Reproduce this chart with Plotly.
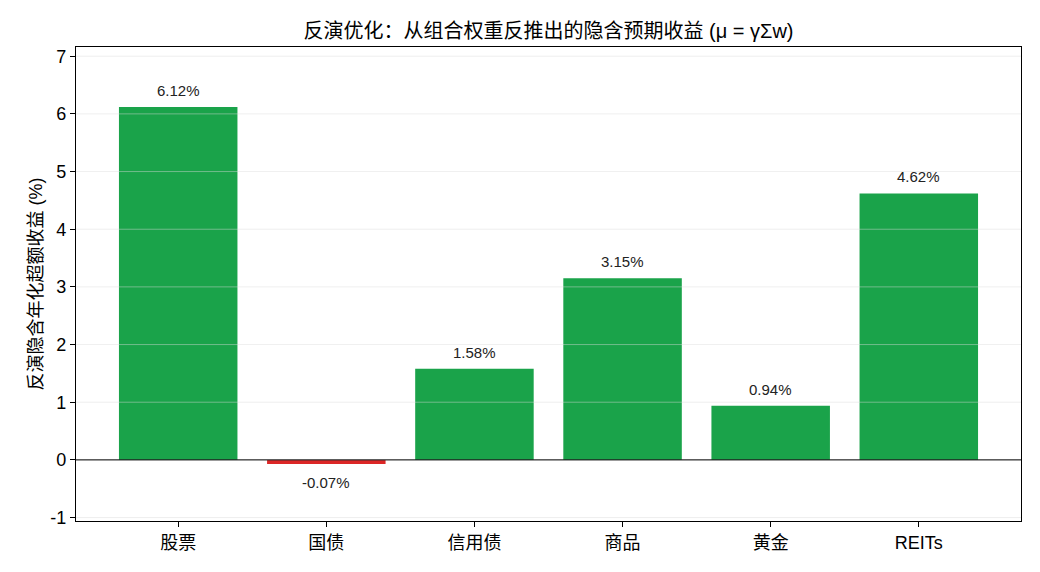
import plotly.graph_objects as go

categories = ["股票", "国债", "信用债", "商品", "黄金", "REITs"]
values = [6.12, -0.07, 1.58, 3.15, 0.94, 4.62]
y_ticks = [-1, 0, 1, 2, 3, 4, 5, 6, 7]

GREEN = "#1aa34a"
RED = "#dc2626"
FONT = "Liberation Sans, Arial, Noto Sans CJK SC, sans-serif"

colors = [GREEN if v >= 0 else RED for v in values]
labels = [f"{v:.2f}%" for v in values]

fig = go.Figure()
fig.add_trace(go.Bar(
    x=categories, y=values, marker=dict(color=colors, line=dict(width=0)),
    width=0.8, showlegend=False, hoverinfo="skip",
))

for c, v, t in zip(categories, values, labels):
    fig.add_annotation(
        x=c, y=v, text=t, showarrow=False,
        yanchor="bottom" if v >= 0 else "top",
        yshift=6 if v >= 0 else -8,
        font=dict(size=15, color="#222", family=FONT),
    )

# faint gridlines drawn above bars (as in reference)
for t in y_ticks:
    fig.add_shape(type="line", xref="paper", x0=0, x1=1, yref="y", y0=t, y1=t,
                  line=dict(color="rgba(220,220,220,0.45)", width=1), layer="above")
# zero line
fig.add_shape(type="line", xref="paper", x0=0, x1=1, yref="y", y0=0, y1=0,
              line=dict(color="black", width=1), layer="above")

fig.update_layout(
    width=1040, height=572,
    margin=dict(l=76, r=19, t=47, b=51),
    paper_bgcolor="white", plot_bgcolor="white",
    font=dict(family=FONT, size=18, color="black"),
    title=dict(text="反演优化：从组合权重反推出的隐含预期收益 (μ = γΣw)",
               x=0.5, xref="paper", xanchor="center", y=0.945, yanchor="middle",
               font=dict(size=20, family=FONT)),
    bargap=0.2,
)
fig.update_xaxes(
    range=[-0.69, 5.69], showline=True, linecolor="black", linewidth=1.2, mirror=True,
    ticks="outside", ticklen=5, tickcolor="black", showgrid=False,
    tickfont=dict(size=18, family=FONT),
)
fig.update_yaxes(
    range=[-1.06, 7.16], tickvals=y_ticks, ticktext=[str(t) for t in y_ticks],
    showline=True, linecolor="black",
    linewidth=1.2, mirror=True, ticks="outside", ticklen=5, tickcolor="black",
    showgrid=False, zeroline=False, tickfont=dict(size=18, family=FONT),
    title=dict(text="反演隐含年化超额收益 (%)", font=dict(size=18, family=FONT), standoff=2),
)

fig.write_html("out.html")
